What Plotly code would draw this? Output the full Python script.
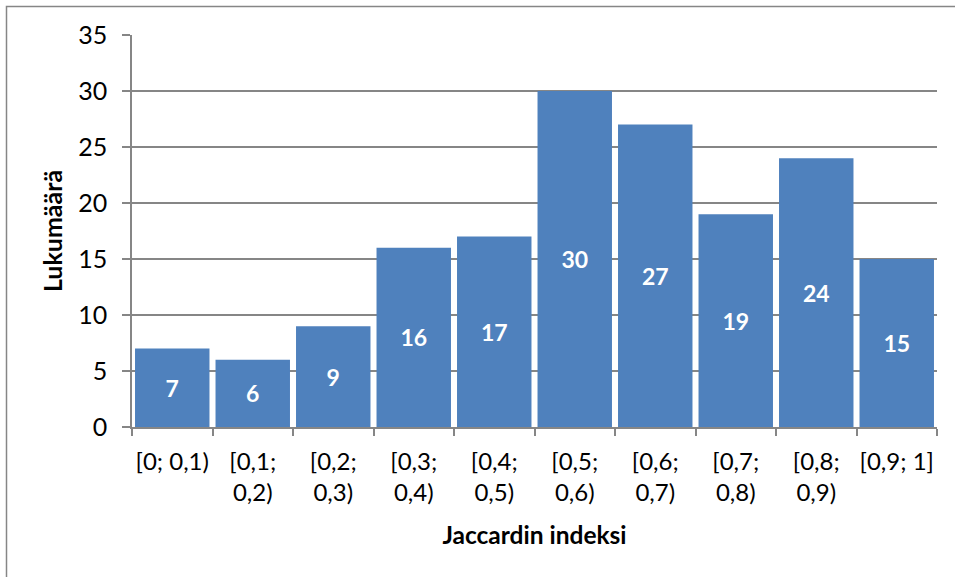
import plotly.graph_objects as go

categories = ["[0; 0,1)", "[0,1;<br>0,2)", "[0,2;<br>0,3)", "[0,3;<br>0,4)", "[0,4;<br>0,5)",
              "[0,5;<br>0,6)", "[0,6;<br>0,7)", "[0,7;<br>0,8)", "[0,8;<br>0,9)", "[0,9; 1]"]
values = [7, 6, 9, 16, 17, 30, 27, 19, 24, 15]
y_ticks = [0, 5, 10, 15, 20, 25, 30, 35]

FONT = "Lato, Open Sans, sans-serif"

fig = go.Figure(go.Bar(
    x=categories, y=values,
    marker=dict(color="#4F81BD", line=dict(width=0)),
    text=[str(v) for v in values],
    textposition="inside", insidetextanchor="middle",
    textfont=dict(family=FONT, size=23, color="white", weight="bold"),
    textangle=0,
    hoverinfo="skip",
))

L, R, T, B = 132, 18, 35, 150
W, H = 955, 577
pw, ph = W - L - R, H - T - B

fig.update_layout(
    width=W, height=H,
    margin=dict(l=L, r=R, t=T, b=B, autoexpand=False),
    paper_bgcolor="white", plot_bgcolor="white",
    bargap=0.075,
    showlegend=False,
    font=dict(family=FONT, size=22, color="black"),
    xaxis=dict(
        type="category", automargin=False,
        showline=True, linecolor="#868686", linewidth=1.5,
        ticks="outside", ticklen=7, tickcolor="#868686", tickwidth=1.5,
        tickson="boundaries", tickangle=0,
        showgrid=False,
        tickfont=dict(family=FONT, size=24),
        ticklabelstandoff=12,
        title=dict(text="Jaccardin indeksi", font=dict(family=FONT, size=24.5, weight="bold"), standoff=22),
    ),
    yaxis=dict(
        range=[0, 35], tickvals=y_ticks, automargin=False,
        showline=True, linecolor="#868686", linewidth=1.5,
        ticks="outside", ticklen=8, tickcolor="#868686", tickwidth=1.5,
        showgrid=True, gridcolor="#868686", gridwidth=1.5,
        zeroline=False,
        tickfont=dict(family=FONT, size=25),
        ticklabelstandoff=10,
        title=dict(text="Lukumäärä", font=dict(family=FONT, size=25, weight="bold"), standoff=8),
    ),
    shapes=[dict(
        type="rect", xref="paper", yref="paper",
        x0=(6.5 - L) / pw, x1=(W + 20 - L) / pw,
        y0=(H - B - (H + 20)) / ph, y1=(H - B - 6.5) / ph,
        line=dict(color="#868686", width=1.5), fillcolor="rgba(0,0,0,0)", layer="below",
    )],
)

fig.write_html("out.html")
